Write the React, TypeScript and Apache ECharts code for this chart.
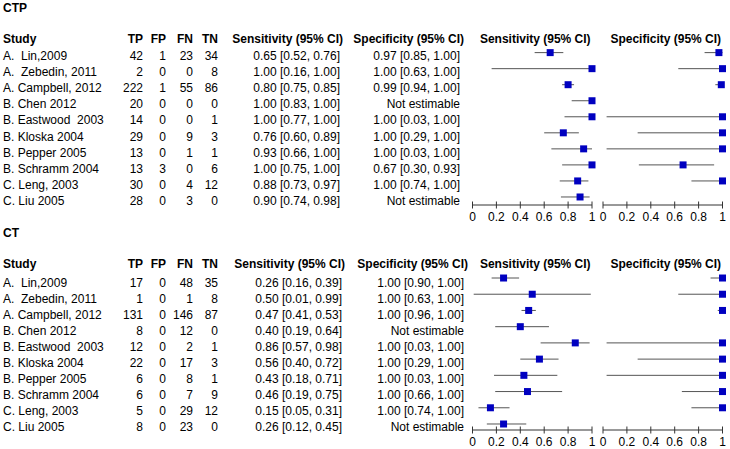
import React, { useEffect, useRef } from "react";
import * as echarts from "echarts";

const studies = [
  "A.  Lin,2009",
  "A.  Zebedin, 2011",
  "A. Campbell, 2012",
  "B. Chen 2012",
  "B. Eastwood  2003",
  "B. Kloska 2004",
  "B. Pepper 2005",
  "B. Schramm 2004",
  "C. Leng, 2003",
  "C. Liu 2005",
];
const headers = ["Study", "TP", "FP", "FN", "TN", "Sensitivity (95% CI)", "Specificity (95% CI)"];
const plotHeaders = ["Sensitivity (95% CI)", "Specificity (95% CI)"];
const tickValues = [0, 0.2, 0.4, 0.6, 0.8, 1];

// CTP
const ctpTP = [42, 2, 222, 20, 14, 29, 13, 13, 30, 28];
const ctpFP = [1, 0, 1, 0, 0, 0, 0, 3, 0, 0];
const ctpFN = [23, 0, 55, 0, 0, 9, 1, 0, 4, 3];
const ctpTN = [34, 8, 86, 0, 1, 3, 1, 6, 12, 0];
const ctpSens = [0.65, 1.0, 0.8, 1.0, 1.0, 0.76, 0.93, 1.0, 0.88, 0.9];
const ctpSensLo = [0.52, 0.16, 0.75, 0.83, 0.77, 0.6, 0.66, 0.75, 0.73, 0.74];
const ctpSensHi = [0.76, 1.0, 0.85, 1.0, 1.0, 0.89, 1.0, 1.0, 0.97, 0.98];
const ctpSpec = [0.97, 1.0, 0.99, null, 1.0, 1.0, 1.0, 0.67, 1.0, null];
const ctpSpecLo = [0.85, 0.63, 0.94, null, 0.03, 0.29, 0.03, 0.3, 0.74, null];
const ctpSpecHi = [1.0, 1.0, 1.0, null, 1.0, 1.0, 1.0, 0.93, 1.0, null];

// CT
const ctTP = [17, 1, 131, 8, 12, 22, 6, 6, 5, 8];
const ctFP = [0, 0, 0, 0, 0, 0, 0, 0, 0, 0];
const ctFN = [48, 1, 146, 12, 2, 17, 8, 7, 29, 23];
const ctTN = [35, 8, 87, 0, 1, 3, 1, 9, 12, 0];
const ctSens = [0.26, 0.5, 0.47, 0.4, 0.86, 0.56, 0.43, 0.46, 0.15, 0.26];
const ctSensLo = [0.16, 0.01, 0.41, 0.19, 0.57, 0.4, 0.18, 0.19, 0.05, 0.12];
const ctSensHi = [0.39, 0.99, 0.53, 0.64, 0.98, 0.72, 0.71, 0.75, 0.31, 0.45];
const ctSpec = [1.0, 1.0, 1.0, null, 1.0, 1.0, 1.0, 1.0, 1.0, null];
const ctSpecLo = [0.9, 0.63, 0.96, null, 0.03, 0.29, 0.03, 0.66, 0.74, null];
const ctSpecHi = [1.0, 1.0, 1.0, null, 1.0, 1.0, 1.0, 1.0, 1.0, null];

const FONT = '"Liberation Sans", Arial, sans-serif';

type Panel = {
  title: string;
  tp: number[]; fp: number[]; fn: number[]; tn: number[];
  sens: number[]; sensLo: number[]; sensHi: number[];
  spec: (number | null)[]; specLo: (number | null)[]; specHi: (number | null)[];
  titleY: number; headerY: number; textY0: number; textStep: number;
  gridTop: number; gridHeight: number; yMin: number;
  sensRight: number; sensHeadRight: number; specRight: number; specHeadRight: number;
};

const panels: Panel[] = [
  {
    title: "CTP", tp: ctpTP, fp: ctpFP, fn: ctpFN, tn: ctpTN,
    sens: ctpSens, sensLo: ctpSensLo, sensHi: ctpSensHi,
    spec: ctpSpec, specLo: ctpSpecLo, specHi: ctpSpecHi,
    titleY: 8, headerY: 39, textY0: 56, textStep: 16.1,
    gridTop: 44.6, gridHeight: 160.4, yMin: 0,
    sensRight: 340, sensHeadRight: 343, specRight: 460, specHeadRight: 464,
  },
  {
    title: "CT", tp: ctTP, fp: ctFP, fn: ctFN, tn: ctTN,
    sens: ctSens, sensLo: ctSensLo, sensHi: ctSensHi,
    spec: ctSpec, specLo: ctSpecLo, specHi: ctSpecHi,
    titleY: 233, headerY: 264, textY0: 283, textStep: 15.95,
    gridTop: 269.9, gridHeight: 160.1, yMin: 0.13,
    sensRight: 342, sensHeadRight: 345, specRight: 464, specHeadRight: 468,
  },
];

const plotLefts = [472.5, 603];
const plotWidth = 119.5;
const colRights = [143, 166, 193, 218];
const NROWS = 10;

function txt(text: string, x: number, y: number, align: string, bold = false) {
  return {
    type: "text",
    x,
    y,
    silent: true,
    style: {
      text,
      fill: "#000",
      font: `${bold ? "bold " : ""}12px ${FONT}`,
      textAlign: align,
      textVerticalAlign: "middle",
    },
  };
}

export default function App() {
  const ref = useRef<HTMLDivElement>(null);
  useEffect(() => {
    document.body.style.margin = "0";
    if (!ref.current) return;
    const chart = echarts.init(ref.current, undefined, { renderer: "svg" });

    const grids: any[] = [];
    const xAxes: any[] = [];
    const yAxes: any[] = [];
    const series: any[] = [];
    const graphics: any[] = [];

    panels.forEach((p) => {
      graphics.push(txt(p.title, 3, p.titleY, "left", true));
      graphics.push(txt(headers[0], 3, p.headerY, "left", true));
      [1, 2, 3, 4].forEach((k) => graphics.push(txt(headers[k], colRights[k - 1], p.headerY, "right", true)));
      graphics.push(txt(headers[5], p.sensHeadRight, p.headerY, "right", true));
      graphics.push(txt(headers[6], p.specHeadRight, p.headerY, "right", true));
      plotHeaders.forEach((h, m) =>
        graphics.push(txt(h, plotLefts[m] + plotWidth / 2 + 3, p.headerY, "center", true))
      );
      studies.forEach((s, i) => {
        const y = p.textY0 + i * p.textStep;
        graphics.push(txt(s, 3, y, "left"));
        [p.tp, p.fp, p.fn, p.tn].forEach((arr, k) =>
          graphics.push(txt(String(arr[i]), colRights[k], y, "right"))
        );
        graphics.push(
          txt(
            `${p.sens[i].toFixed(2)} [${p.sensLo[i].toFixed(2)}, ${p.sensHi[i].toFixed(2)}]`,
            p.sensRight, y, "right"
          )
        );
        const sp = p.spec[i];
        graphics.push(
          txt(
            sp == null
              ? "Not estimable"
              : `${sp.toFixed(2)} [${(p.specLo[i] as number).toFixed(2)}, ${(p.specHi[i] as number).toFixed(2)}]`,
            p.specRight, y, "right"
          )
        );
      });

      [0, 1].forEach((m) => {
        const est = m === 0 ? p.sens : p.spec;
        const lo = m === 0 ? p.sensLo : p.specLo;
        const hi = m === 0 ? p.sensHi : p.specHi;
        const gi = grids.length;
        grids.push({ left: plotLefts[m], width: plotWidth, top: p.gridTop, height: p.gridHeight });
        xAxes.push({
          type: "value", gridIndex: gi, min: 0, max: 1, interval: 0.2,
          splitLine: { show: false },
          axisLine: { show: false },
          axisTick: { show: false },
          axisLabel: { show: true, margin: 6, color: "#000", fontSize: 12, fontFamily: FONT },
        });
        yAxes.push({ type: "value", gridIndex: gi, min: p.yMin, max: NROWS, show: false });

        const ciData: any[] = [];
        const ptData: any[] = [];
        est.forEach((e, i) => {
          if (e == null) return;
          const row = NROWS - 0.5 - i;
          ciData.push([lo[i], hi[i], row]);
          ptData.push([e, row]);
        });
        const lineStyle = { stroke: "#333", lineWidth: 1 };
        // axis baseline
        series.push({
          type: "custom",
          xAxisIndex: gi,
          yAxisIndex: gi,
          data: [[tickValues[0], tickValues[tickValues.length - 1], p.yMin]],
          encode: { x: [0, 1], y: 2 },
          clip: false,
          silent: true,
          renderItem: (params: any, api: any) => {
            const a = api.coord([api.value(0), api.value(2)]);
            const b = api.coord([api.value(1), api.value(2)]);
            return { type: "line", shape: { x1: a[0], y1: a[1], x2: b[0], y2: b[1] }, style: lineStyle };
          },
          z: 1,
        });
        // ticks crossing the baseline
        series.push({
          type: "custom",
          xAxisIndex: gi,
          yAxisIndex: gi,
          data: tickValues.map((t) => [t, p.yMin]),
          encode: { x: 0, y: 1 },
          clip: false,
          silent: true,
          renderItem: (params: any, api: any) => {
            const c = api.coord([api.value(0), api.value(1)]);
            return { type: "line", shape: { x1: c[0], y1: c[1] - 3.5, x2: c[0], y2: c[1] + 3.5 }, style: lineStyle };
          },
          z: 1,
        });
        // confidence intervals
        series.push({
          type: "custom",
          xAxisIndex: gi,
          yAxisIndex: gi,
          data: ciData,
          encode: { x: [0, 1], y: 2 },
          clip: false,
          silent: true,
          renderItem: (params: any, api: any) => {
            const a = api.coord([api.value(0), api.value(2)]);
            const b = api.coord([api.value(1), api.value(2)]);
            return {
              type: "line",
              shape: { x1: a[0], y1: a[1], x2: b[0], y2: b[1] },
              style: { stroke: "#555", lineWidth: 1 },
            };
          },
          z: 2,
        });
        // point estimates
        series.push({
          type: "scatter",
          xAxisIndex: gi,
          yAxisIndex: gi,
          data: ptData,
          symbol: "rect",
          symbolSize: 7,
          itemStyle: { color: "#0000C0", opacity: 1 },
          silent: true,
          clip: false,
          z: 3,
        });
      });
    });

    chart.setOption({
      animation: false,
      backgroundColor: "#fff",
      grid: grids,
      xAxis: xAxes,
      yAxis: yAxes,
      series,
      graphic: graphics,
    });
    return () => chart.dispose();
  }, []);
  return <div ref={ref} style={{ width: 730, height: 449 }} />;
}
